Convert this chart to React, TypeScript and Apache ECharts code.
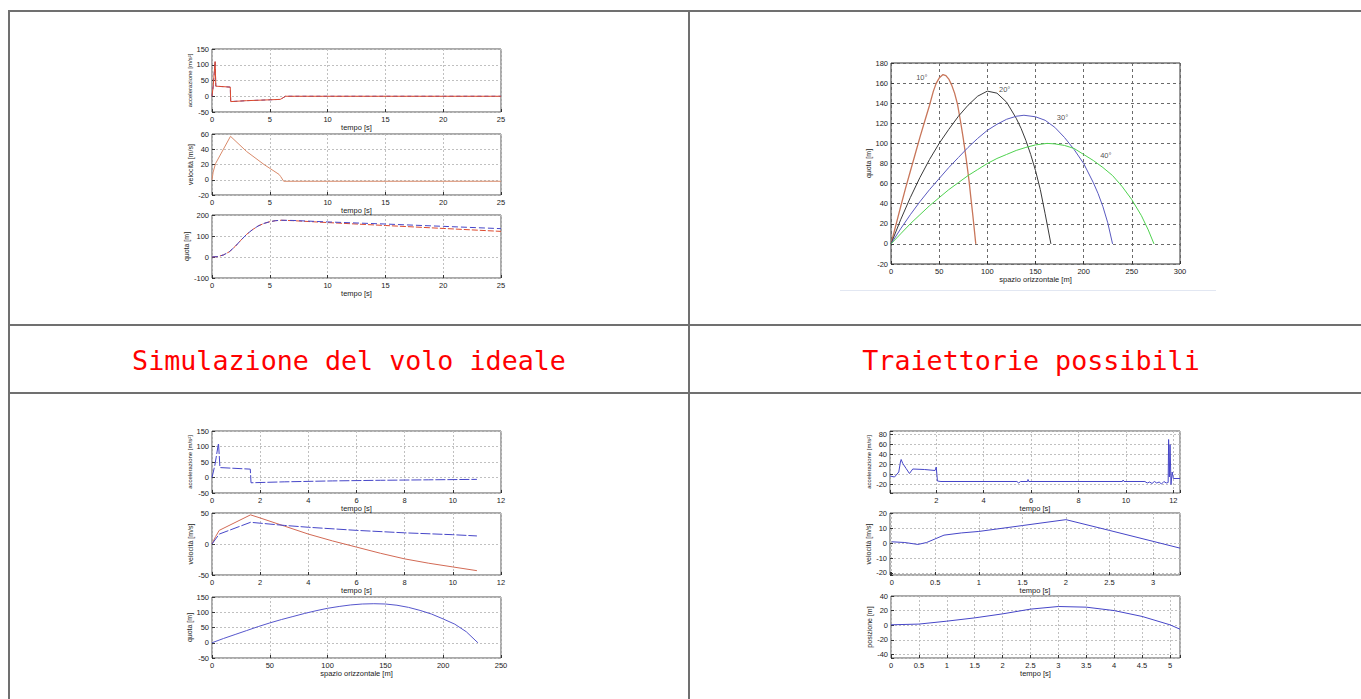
import React, { useEffect, useRef } from "react";
import * as echarts from "echarts";

// ---------- Top-left: Simulazione del volo ideale ----------
const tlAccT = [0, 0.1, 0.27, 0.33, 1.58, 1.62, 3, 4.5, 5.9, 6.1, 6.35, 25];
const tlAccA = [0, 30, 110, 32, 29, -17, -14, -12, -10, -6, 0, 0];
const tlVelT = [0, 0.1, 0.3, 1.6, 3, 4.5, 5.8, 5.95, 6.2, 25];
const tlVelV = [0, 10, 21, 57, 37, 20, 7, 4, -2, -2];
const tlQuotaT = [0, 0.5, 1, 1.5, 2, 2.5, 3, 3.5, 4, 4.5, 5, 5.5, 6, 7, 10, 15, 20, 25];
const tlQuotaRed = [0, 2, 10, 25, 50, 80, 108, 130, 148, 160, 168, 173, 175, 173, 164, 150, 136, 122];
const tlQuotaBlue = [0, 2, 10, 25, 50, 80, 108, 130, 148, 160, 168, 173, 175, 174, 167, 157, 146, 135];

// ---------- Top-right: Traiettorie possibili ----------
const tr10X = [0, 5, 10, 15, 20, 25, 30, 35, 40, 44, 47, 50, 54, 57, 60, 63, 66, 69, 72, 75, 78, 81, 83, 85, 88];
const tr10Y = [0, 18.5, 37, 55, 72, 89, 106, 122, 138, 152, 160, 165, 168.5, 167.5, 164, 158, 150, 139, 123, 105, 85, 63, 45, 28, 0];
const tr20X = [0, 10, 20, 30, 40, 50, 60, 70, 80, 90, 100, 110, 120, 130, 135, 140, 145, 150, 155, 160, 166];
const tr20Y = [0, 24, 46, 66, 84, 100, 114, 127, 138, 147, 152, 150, 141, 125, 115, 103, 89, 73, 54, 30, 0];
const tr30X = [0, 10, 20, 30, 40, 50, 60, 70, 80, 90, 100, 110, 120, 130, 138, 150, 160, 170, 180, 190, 200, 210, 215, 220, 225, 230];
const tr30Y = [0, 15, 29, 42, 54, 65, 76, 86, 96, 105, 113, 119, 124, 127, 128, 126.5, 123, 116, 106, 94, 80, 61, 50, 37, 21, 0];
const tr40X = [0, 10, 20, 30, 40, 50, 60, 70, 80, 90, 100, 110, 120, 130, 140, 150, 162, 170, 180, 190, 200, 210, 220, 230, 240, 250, 260, 267, 273];
const tr40Y = [0, 10, 20, 29, 38, 46, 54, 61, 68, 74, 80, 85, 89, 93, 96, 98.5, 100, 99.5, 98, 95, 89, 83, 76, 68, 57, 44, 28, 14, 0];
const trLabelX = [32, 118, 178, 223];
const trLabelY = [166, 154, 126, 88];
const trLabelText = ["10°", "20°", "30°", "40°"];

// ---------- Bottom-left ----------
const blAccT = [0, 0.12, 0.27, 0.33, 1.59, 1.62, 3, 5, 7, 9, 11];
const blAccA = [0, 40, 111, 32, 27, -17, -14, -11, -9, -7.5, -6];
const blVelRedT = [0, 0.15, 0.3, 1.6, 2, 3, 4, 5, 6, 7, 8, 9, 10, 11];
const blVelRed = [0, 12, 22, 47, 42, 29, 16, 5, -5, -15, -24, -31, -37, -43];
const blVelBlueT = [0, 0.15, 0.3, 1.6, 3, 4, 6, 8, 10, 11];
const blVelBlue = [0, 8, 16, 35, 30, 27, 22, 18, 15, 13];
const blQuotaX = [0, 10, 20, 30, 40, 50, 60, 70, 80, 90, 100, 110, 120, 130, 140, 150, 160, 170, 180, 190, 200, 210, 220, 230];
const blQuotaY = [0, 14, 27, 40, 53, 65, 76, 86, 96, 105, 113, 119, 124, 127, 128, 127, 123, 116, 106, 94, 78, 61, 36, 0];

// ---------- Bottom-right ----------
const brAccT = [0.05, 0.24, 0.42, 0.49, 0.52, 0.59, 0.73, 0.87, 1.01, 1.5, 1.95, 2.0, 2.05, 2.2, 5.4, 5.48, 5.55, 5.85, 5.87, 5.9, 9.85, 9.88, 9.92, 10.8, 10.9, 11.0, 11.1, 11.2, 11.3, 11.4, 11.5, 11.6, 11.7, 11.78, 11.8, 11.83, 11.86, 11.9, 11.95, 12.0, 12.28];
const brAccA = [-3, -5, 5, 25, 30, 22, 12, 2, 11, 10, 8, 15, -13, -14, -14, -17, -14, -14, -10, -14, -14, -11, -14, -14, -17, -15, -18, -14, -17, -15, -19, -14, -17, -16, 70, -5, 60, -20, 5, -8, -8];
const brVelT = [0, 0.15, 0.3, 0.4, 0.5, 0.6, 0.8, 1.0, 1.5, 2.0, 2.5, 3.0, 3.31];
const brVelV = [1, 0.5, -0.8, 0.5, 3, 5.5, 7, 8, 12, 16, 8.7, 1.3, -3.3];
const brPosT = [0, 0.5, 1, 1.5, 2, 2.5, 3, 3.5, 4, 4.5, 5, 5.18];
const brPosY = [0.5, 1.5, 5.5, 10, 15.5, 22, 25.6, 24.7, 20, 12, 0.5, -5.5];

// ---------- Texts ----------
const captions = ["Simulazione del volo ideale", "Traiettorie possibili"];
const nAcc = "accelerazione [m/s²]";
const nVel = "velocità [m/s]";
const nQuota = "quota [m]";
const nPos = "posizione [m]";
const nTempo = "tempo [s]";
const nSpazio = "spazio orizzontale [m]";

const zip = (xs: number[], ys: number[]) => xs.map((x, i) => [x, ys[i]]);

const FONT = "Liberation Sans";
const TXT = "#1a1a1a";

type Ax = {
  min: number; max: number; interval?: number; splitNumber?: number; step?: number;
  name: string; nameGap: number; nameSize?: number;
};

const gridLayout = [
  { left: 212, top: 49, width: 289, height: 63 },
  { left: 212, top: 134, width: 289, height: 61 },
  { left: 212, top: 215, width: 289, height: 63 },
  { left: 891, top: 63, width: 289, height: 201 },
  { left: 212, top: 431, width: 289, height: 62 },
  { left: 212, top: 513, width: 289, height: 62 },
  { left: 212, top: 597, width: 289, height: 61 },
  { left: 890, top: 431, width: 290, height: 62 },
  { left: 890, top: 513, width: 290, height: 62 },
  { left: 891, top: 596, width: 289, height: 62 },
];

const xAxes: Ax[] = [
  { min: 0, max: 25, interval: 5, name: nTempo, nameGap: 11 },
  { min: 0, max: 25, interval: 5, name: nTempo, nameGap: 11 },
  { min: 0, max: 25, interval: 5, name: nTempo, nameGap: 11 },
  { min: 0, max: 300, interval: 50, name: nSpazio, nameGap: 11 },
  { min: 0, max: 12, interval: 2, name: nTempo, nameGap: 11 },
  { min: 0, max: 12, interval: 2, name: nTempo, nameGap: 11 },
  { min: 0, max: 250, interval: 50, name: nSpazio, nameGap: 10 },
  { min: 0.05, max: 12.28, splitNumber: 5, step: 2, name: nTempo, nameGap: 11 },
  { min: -0.02, max: 3.31, splitNumber: 5, step: 0.5, name: nTempo, nameGap: 11 },
  { min: 0, max: 5.18, splitNumber: 10, step: 0.5, name: nTempo, nameGap: 10 },
];

const yAxes: Ax[] = [
  { min: -50, max: 150, interval: 50, name: nAcc, nameGap: 17, nameSize: 6 },
  { min: -20, max: 60, interval: 20, name: nVel, nameGap: 15, nameSize: 7 },
  { min: -100, max: 200, interval: 100, name: nQuota, nameGap: 18, nameSize: 7 },
  { min: -20, max: 180, interval: 20, name: nQuota, nameGap: 14, nameSize: 7 },
  { min: -50, max: 150, interval: 50, name: nAcc, nameGap: 15, nameSize: 6 },
  { min: -50, max: 50, interval: 50, name: nVel, nameGap: 15, nameSize: 7 },
  { min: -50, max: 150, interval: 50, name: nQuota, nameGap: 15, nameSize: 7 },
  { min: -37, max: 87, splitNumber: 5, step: 20, name: nAcc, nameGap: 13, nameSize: 6 },
  { min: -21.5, max: 20.5, splitNumber: 5, step: 10, name: nVel, nameGap: 13, nameSize: 7 },
  { min: -45, max: 40, splitNumber: 5, step: 20, name: nPos, nameGap: 13, nameSize: 7 },
];

function stepFormatter(step?: number) {
  if (!step) return undefined;
  return (v: number) => {
    const k = v / step;
    return Math.abs(k - Math.round(k)) < 1e-6 ? String(+v.toFixed(4)) : "";
  };
}

function makeAxis(a: Ax, i: number, isX: boolean) {
  const tr = i === 3;
  return {
    type: "value",
    gridIndex: i,
    min: a.min,
    max: a.max,
    ...(a.interval ? { interval: a.interval } : {}),
    ...(a.splitNumber ? { splitNumber: a.splitNumber } : {}),
    axisLine: { show: false, onZero: false },
    axisTick: { show: true, inside: true, length: 3, lineStyle: { color: "#333", width: 1 } },
    axisLabel: {
      fontSize: 7.5,
      fontFamily: FONT,
      color: TXT,
      margin: 3,
      ...(a.step ? { formatter: stepFormatter(a.step) } : {}),
    },
    splitLine: {
      show: true,
      lineStyle: tr
        ? { color: "#6a6a6a", type: [3, 3], width: 1 }
        : { color: "#c0c0c0", type: [2, 2], width: 1 },
    },
    name: a.name,
    nameLocation: "middle",
    nameGap: a.nameGap,
    nameRotate: isX ? 0 : 90,
    nameTextStyle: { fontSize: isX ? 7.5 : a.nameSize || 7, fontFamily: FONT, color: TXT },
  };
}

function line(i: number, data: number[][], color: string, width = 1, type: any = "solid", z = 2) {
  return {
    type: "line",
    xAxisIndex: i,
    yAxisIndex: i,
    data,
    showSymbol: false,
    symbol: "none",
    silent: true,
    z,
    lineStyle: { color, width, type },
  };
}

const RED = "#dd4a2e";
const BLUE = "#4646c8";

function buildOption() {
  const grid = gridLayout.map((g, i) => ({
    ...g,
    show: true,
    backgroundColor: "#fff",
    borderColor: i === 3 ? "#333" : "#555",
    borderWidth: 1,
  }));

  const series: any[] = [
    // TL
    line(0, zip(tlAccT, tlAccA), BLUE, 1, [4, 3], 2),
    line(0, zip(tlAccT, tlAccA), RED, 1, "solid", 3),
    line(1, zip(tlVelT, tlVelV), "#d98a6a", 1, "solid", 3),
    line(2, zip(tlQuotaT, tlQuotaRed), RED, 1, [6, 2], 3),
    line(2, zip(tlQuotaT, tlQuotaBlue), BLUE, 1, [6, 3], 4),
    // TR
    line(3, zip(tr10X, tr10Y), "#c8765a", 1.3),
    line(3, zip(tr20X, tr20Y), "#3a3a3a", 1),
    line(3, zip(tr30X, tr30Y), "#5a5ac0", 1),
    line(3, zip(tr40X, tr40Y), "#4fd24f", 1),
    {
      type: "scatter",
      xAxisIndex: 3,
      yAxisIndex: 3,
      silent: true,
      symbolSize: 1,
      itemStyle: { color: "rgba(0,0,0,0)" },
      data: trLabelX.map((x, k) => [x, trLabelY[k], trLabelText[k]]),
      label: {
        show: true,
        position: "inside",
        formatter: (p: any) => p.value[2],
        fontSize: 7.5,
        fontFamily: FONT,
        color: TXT,
        textBorderWidth: 0,
      },
      z: 5,
    },
    // BL
    line(4, zip(blAccT, blAccA), BLUE, 1, [10, 2]),
    line(5, zip(blVelRedT, blVelRed), "#d26a55", 1),
    line(5, zip(blVelBlueT, blVelBlue), BLUE, 1, [10, 2], 3),
    line(6, zip(blQuotaX, blQuotaY), "#5656cc", 1),
    // BR
    line(7, zip(brAccT, brAccA), BLUE, 1),
    line(8, zip(brVelT, brVelV), BLUE, 1),
    line(9, zip(brPosT, brPosY), BLUE, 1),
  ];

  const LINE = "#707070";
  const graphic: any[] = [
    { type: "rect", shape: { x: 8, y: 10, width: 1353, height: 2 }, style: { fill: LINE }, silent: true },
    { type: "rect", shape: { x: 8, y: 10, width: 2, height: 689 }, style: { fill: LINE }, silent: true },
    { type: "rect", shape: { x: 688, y: 10, width: 2, height: 689 }, style: { fill: LINE }, silent: true },
    { type: "rect", shape: { x: 8, y: 324, width: 1353, height: 2 }, style: { fill: LINE }, silent: true },
    { type: "rect", shape: { x: 8, y: 392, width: 1353, height: 2 }, style: { fill: LINE }, silent: true },
    { type: "rect", shape: { x: 840, y: 290, width: 376, height: 1 }, style: { fill: "#e2e7f2" }, silent: true },
    {
      type: "text",
      x: 349,
      y: 360,
      silent: true,
      style: {
        text: captions[0],
        fill: "#ff0000",
        fontSize: 26.7,
        fontFamily: "DejaVu Sans Mono",
        align: "center",
        verticalAlign: "middle",
      },
    },
    {
      type: "text",
      x: 1031,
      y: 360,
      silent: true,
      style: {
        text: captions[1],
        fill: "#ff0000",
        fontSize: 26.7,
        fontFamily: "DejaVu Sans Mono",
        align: "center",
        verticalAlign: "middle",
      },
    },
  ];

  return {
    animation: false,
    backgroundColor: "#fff",
    grid,
    xAxis: xAxes.map((a, i) => makeAxis(a, i, true)),
    yAxis: yAxes.map((a, i) => makeAxis(a, i, false)),
    series,
    graphic,
  };
}

export default function App() {
  const ref = useRef<HTMLDivElement>(null);
  useEffect(() => {
    if (!ref.current) return;
    const chart = echarts.init(ref.current, undefined, { renderer: "svg" });
    chart.setOption(buildOption() as any);
    return () => chart.dispose();
  }, []);
  return (
    <div
      ref={ref}
      style={{ position: "absolute", left: 0, top: 0, width: 1361, height: 699, background: "#fff" }}
    />
  );
}
